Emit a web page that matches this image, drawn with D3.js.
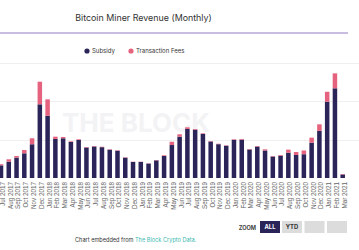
<!DOCTYPE html>
<html>
<head>
<meta charset="utf-8">
<script src="https://d3js.org/d3.v7.min.js"></script>
<style>
    body { margin: 0; background: #fff; }
    svg { display: block; font-family: Inter, "Noto Sans", sans-serif; }
    .grid line { stroke: #efefef; stroke-width: 1px; }
    .x-axis text { fill: #666; font-size: 6.3px; }
</style>
</head>
<body>
<svg id="chart" width="359" height="250"></svg>

<script>
    // monthly labels Jul 2017 .. Mar 2021
    const months = ["Jul 2017","Aug 2017","Sep 2017","Oct 2017","Nov 2017","Dec 2017",
        "Jan 2018","Feb 2018","Mar 2018","Apr 2018","May 2018","Jun 2018","Jul 2018","Aug 2018","Sep 2018","Oct 2018","Nov 2018","Dec 2018",
        "Jan 2019","Feb 2019","Mar 2019","Apr 2019","May 2019","Jun 2019","Jul 2019","Aug 2019","Sep 2019","Oct 2019","Nov 2019","Dec 2019",
        "Jan 2020","Feb 2020","Mar 2020","Apr 2020","May 2020","Jun 2020","Jul 2020","Aug 2020","Sep 2020","Oct 2020","Nov 2020","Dec 2020",
        "Jan 2021","Feb 2021","Mar 2021"];

    // $ millions
    const subsidy = [165,213,265,322,440,961,
        812,509,518,470,496,398,411,402,369,356,265,209,
        209,188,230,287,430,539,640,630,575,476,441,421,
        498,500,372,410,359,280,290,330,300,310,460,615,
        995,1170,46];
    const fees = [15,31,22,43,78,295,
        214,30,17,9,9,6,6,6,5,5,5,4,
        4,4,5,9,43,31,21,9,8,6,6,5,
        7,9,6,7,15,7,10,40,39,49,66,85,
        130,195,6];

    const gridTicks = [500, 1000, 1500];

    const colors = { subsidy: "#2a2459", fees: "#e5637f" };

    const svg = d3.select("#chart");

    const rows = months.map((m, i) => ({ month: m, subsidy: subsidy[i], fees: fees[i] }));
    const stack = d3.stack().keys(["subsidy", "fees"])(rows);

    const step = 7.766;
    const x = d3.scaleBand()
        .domain(months)
        .range([1 - step / 2, 1 - step / 2 + step * months.length])
        .paddingInner(0.42)
        .paddingOuter(0.21);

    const y = d3.scaleLinear().domain([0, 1500]).range([178, 63]);

    // title + header rule
    svg.append("text")
        .attr("x", 143.5).attr("y", 20.5)
        .attr("text-anchor", "middle")
        .attr("font-size", 8.9)
        .attr("fill", "#333")
        .text("Bitcoin Miner Revenue (Monthly)");

    svg.append("line")
        .attr("x1", 0).attr("x2", 348)
        .attr("y1", 33).attr("y2", 33)
        .attr("stroke", "#b9a7d8").attr("stroke-width", 1.3);

    // legend
    const legend = svg.append("g").attr("font-size", 6).attr("fill", "#333");
    [["Subsidy", colors.subsidy, 87], ["Transaction Fees", colors.fees, 131]].forEach(([label, c, lx]) => {
        legend.append("circle").attr("cx", lx).attr("cy", 51).attr("r", 2.6).attr("fill", c);
        legend.append("text").attr("x", lx + 5).attr("y", 53.1).text(label);
    });

    // gridlines
    svg.append("g").attr("class", "grid")
        .selectAll("line").data(gridTicks).join("line")
        .attr("x1", 0).attr("x2", 359)
        .attr("y1", d => Math.round(y(d)) + 0.5)
        .attr("y2", d => Math.round(y(d)) + 0.5);

    // watermark
    svg.append("text")
        .attr("x", 62).attr("y", 132)
        .attr("font-size", 26)
        .attr("font-weight", 700)
        .attr("fill", "#f3f3f5")
        .text("THE BLOCK");

    // bars
    svg.append("g").selectAll("g").data(stack).join("g")
        .attr("fill", d => colors[d.key])
        .selectAll("rect").data(d => d).join("rect")
        .attr("x", d => x(d.data.month))
        .attr("width", x.bandwidth())
        .attr("y", d => y(d[1]))
        .attr("height", d => y(d[0]) - y(d[1]));

    // x axis
    const xAxis = svg.append("g")
        .attr("class", "x-axis")
        .attr("transform", "translate(0,178)")
        .call(d3.axisBottom(x).tickSize(0).tickPadding(0));
    xAxis.select(".domain").remove();
    xAxis.selectAll("text")
        .attr("text-anchor", "end")
        .attr("transform", "rotate(-90)")
        .attr("x", -4)
        .attr("y", 0)
        .attr("dy", "0.62em");

    // zoom buttons
    const zoomG = svg.append("g");
    zoomG.append("text")
        .attr("x", 256).attr("y", 229.5)
        .attr("text-anchor", "end")
        .attr("font-size", 5.6).attr("font-weight", 700)
        .attr("fill", "#444")
        .text("ZOOM");
    const buttons = [["ALL", 260, true], ["YTD", 282, false], ["", 304.5, false], ["", 327, false]];
    buttons.forEach(([label, bx, active]) => {
        zoomG.append("rect")
            .attr("x", bx).attr("y", 221)
            .attr("width", 20).attr("height", 12)
            .attr("fill", active ? colors.subsidy : "#dcdcdc");
        if (label) {
            zoomG.append("text")
                .attr("x", bx + 10).attr("y", 229.2)
                .attr("text-anchor", "middle")
                .attr("font-size", 5.8).attr("font-weight", 700)
                .attr("fill", active ? "#fff" : "#333")
                .text(label);
        }
    });

    // footer
    const foot = svg.append("text")
        .attr("x", 75).attr("y", 242)
        .attr("font-size", 5.6)
        .attr("fill", "#333");
    foot.append("tspan").text("Chart embedded from ");
    foot.append("tspan").attr("fill", "#3bbab2").text("The Block Crypto Data.");
</script>
</body>
</html>
